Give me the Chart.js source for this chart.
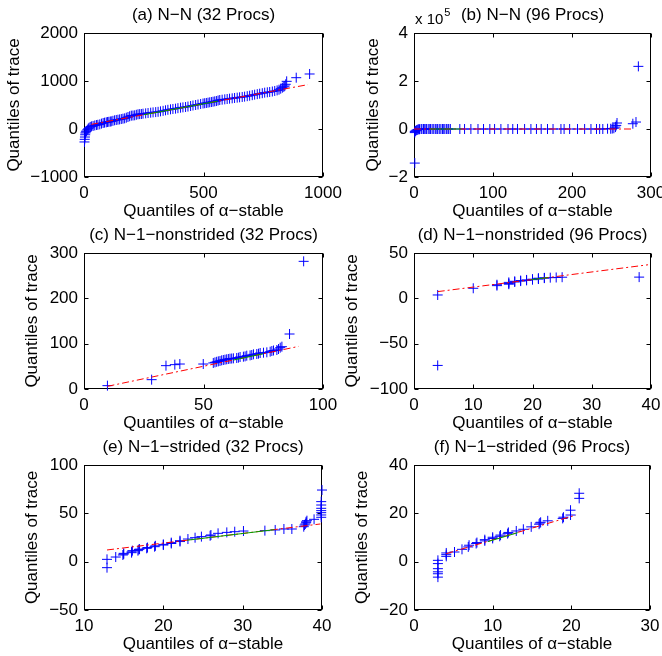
<!DOCTYPE html>
<html>
<head>
<meta charset="utf-8">
<script src="https://cdn.jsdelivr.net/npm/chart.js@4.4.0/dist/chart.umd.min.js"></script>
<style>
html, body { margin: 0; padding: 0; background: #fff; overflow: hidden; }
#wrap { position: relative; width: 662px; height: 656px; }
canvas { position: absolute; left: 0; top: 0; }
</style>
</head>
<body>
<div id="wrap">
<canvas id="c0" width="662" height="656"></canvas>
<canvas id="c1" width="662" height="656"></canvas>
<canvas id="c2" width="662" height="656"></canvas>
<canvas id="c3" width="662" height="656"></canvas>
<canvas id="c4" width="662" height="656"></canvas>
<canvas id="c5" width="662" height="656"></canvas>
</div>
<script>
// ---- data ----
const titles = ['(a) N\u2212N (32 Procs)', '(b) N\u2212N (96 Procs)',
  '(c) N\u22121\u2212nonstrided (32 Procs)', '(d) N\u22121\u2212nonstrided (96 Procs)',
  '(e) N\u22121\u2212strided (32 Procs)', '(f) N\u22121\u2212strided (96 Procs)'];
const xLabel = 'Quantiles of \u03b1\u2212stable';
const yLabel = 'Quantiles of trace';

// (a) N-N 32
const aX = [2,3,4,5,6,8,10,14,18,21,26,31,38,45,52,58,66,73,80,86,93,98,104,110,114,121,128,135,142,149,156,163,170,177,184,191,198,205,212,219,226,233,240,247,258,268,279,289,300,310,320,331,341,351,362,372,383,393,404,414,425,435,446,456,467,477,488,498,505,512,519,526,533,540,547,554,561,568,578,589,599,609,620,630,641,651,662,672,683,693,704,714,725,735,746,756,767,777,788,798,808,816,823,830,836,840,844,848,888,944];
const aY = [-270,-215,-167,-120,-83,-60,-42,-15,7,25,42,55,63,74,83,88,97,112,125,132,139,146,150,155,160,170,181,188,194,200,208,215,222,236,250,265,278,281,285,296,306,310,312,319,326,333,340,347,352,358,368,378,389,400,410,417,424,434,444,451,458,468,479,490,500,510,521,531,537,542,549,556,562,569,576,583,594,604,611,618,625,632,639,646,653,660,667,674,684,694,705,715,726,736,746,757,764,771,781,792,805,819,840,861,878,896,931,993,1069,1146];
const aRefX = [31, 250, 560, 937];
const aRefY = [97, 297, 580, 924];
const aXTicks = [0, 500, 1000];
const aYTicks = [-1000, 0, 1000, 2000];

// (b) N-N 96 (y in units of 1e5)
const bX = [1,1,1,2,3,4,5,6,7,9,10,12,13,15,16,18,20,21,23,25,27,29,30,32,34,36,37,39,41,43,44,46,58,64,72,81,88,96,102,110,119,125,131,140,148,155,161,169,176,186,190,197,207,216,224,231,235,239,245,249,251,253,255,256,257,277,281,284];
const bY = [-1.42,-0.15,-0.1,-0.08,-0.05,-0.04,-0.02,-0.01,-0.01,0,0,0,0,0,0,0,0,0,0,0,0,0,0,0,0,0,0,0,0,0,0,0,0,0,0,0,0,0,0,0,0,0,0,0,0,0,0,0,0,0,0,0,0,0,0,0,0,0,0.01,0.01,0.02,0.03,0.08,0.15,0.25,0.22,0.29,2.61];
const bRefX = [0, 20, 60, 277];
const bRefY = [0, 0, 0, 0];
const bXTicks = [0, 100, 200, 300];
const bYTicks = [-2, 0, 2, 4];

// (c) N-1-nonstrided 32
const cX = [9.8,28.3,34.3,38.0,40.1,49.9,54.1,54.8,55.5,56.2,56.9,57.6,58.3,59.0,59.7,60.4,61.1,61.8,62.5,63.9,64.6,65.3,66.7,67.4,68.1,69.5,70.2,70.9,72.3,73.0,73.7,75.1,76.5,77.9,78.6,79.3,80.7,81.4,82.1,82.8,86,91.9];
const cY = [7.4,20.6,51.5,53.7,55.1,55.1,57.5,58.8,60,61,61.8,63.2,64,64.7,65.5,66.2,66.9,67.2,67.6,68.4,69.1,70.6,71.3,72,73.5,74.2,75,76.5,77.2,77.9,79.4,80.1,80.9,82.4,83.8,84.9,86,88.2,91.2,93.4,121.3,281.6];
const cRefX = [9.8, 62.5, 75, 89.8];
const cRefY = [5.9, 63.9, 77.7, 94];
const cXTicks = [0, 50, 100];
const cYTicks = [0, 100, 200, 300];

// (d) N-1-nonstrided 96
const dX = [4,4,10,14,14,16,16,16,17,17,18,18,19,19,20,20,21,21,21,22,22,23,24,25,38];
const dY = [-74,3.7,11.1,14.0,15.0,15.6,16.4,17.6,18.0,18.8,19.0,19.6,19.8,20.3,20.6,21.1,21.3,21.6,22.2,22.3,22.6,22.8,23.0,23.3,23.4];
const dRefX = [4, 19.8, 22.6, 39.5];
const dRefY = [7.4, 20.6, 22.9, 37];
const dXTicks = [0, 10, 20, 30, 40];
const dYTicks = [-100, -50, 0, 50];

// (e) N-1-strided 32
const eX = [12.9,12.9,14,14.9,15,15,16,16,16.1,16.8,16.9,17,17.9,18,18.9,19,20,20,21,21,22.1,22.1,23.1,24,24.8,25.9,26,26.9,28,29,30.1,32.8,34.1,35.2,36.2,37.7,37.8,37.9,38,38,38.1,39,39.9,39.9,39.9,39.9,39.9,39.9,39.9,40];
const eY = [-6.2,2.4,4.8,6.9,7.8,8.6,9.3,10.2,11.4,11.4,12.5,13,13.8,14.6,15.5,16.4,17.2,17.9,18.8,19.7,20.8,21.7,23.4,24.8,25.9,26.8,27.6,29.3,30.3,31,31.7,32.1,32.8,33.8,33.8,36.2,37.9,39,40.3,41.2,42.4,43.8,45.9,48.3,50.7,52.8,55.2,58.6,62.1,74.1];
const eRefX = [12.9, 23, 34, 39.8];
const eRefY = [12.1, 22.2, 33.1, 39];
const eXTicks = [10, 20, 30, 40];
const eYTicks = [-50, 0, 50, 100];

// (f) N-1-strided 96
const fX = [3.04,3.04,3.04,3.04,3.04,3.04,4.1,4.1,4.1,5.15,6.1,6.9,7,7.9,8,9,9,10,10,10.9,11,11.9,12,13,13.9,14.9,15.9,16,16.1,17,18.9,19,19.9,19.9,21,21];
const fY = [-6.4,-5,-4.2,-2.9,-0.8,0.55,2.2,2.9,3.6,4,5.1,6.1,6.8,7.5,7.9,8.6,9.1,9.6,10.1,10.5,11,11.6,12.1,12.7,13.4,14.4,15.5,16,16.3,16.9,17.9,18.4,19.3,21.3,26.2,28.3];
const fRefX = [4.1, 9.4, 13.2, 20.6];
const fRefY = [3.3, 8.3, 12, 19.3];
const fXTicks = [0, 10, 20, 30];
const fYTicks = [-20, 0, 20, 40];

// ---- layout (pixel boxes of each axes) ----
const boxes = [
  {l: 84,  r: 323, t: 33,  b: 177, yl: 14},
  {l: 414, r: 651, t: 33,  b: 177, yl: 373},
  {l: 84,  r: 323, t: 253, b: 389, yl: 32},
  {l: 414, r: 651, t: 253, b: 389, yl: 352},
  {l: 84,  r: 322, t: 465, b: 610, yl: 32},
  {l: 414, r: 650, t: 465, b: 610, yl: 362}
];

const fam = '"Liberation Sans", Arial, Helvetica, sans-serif';
const FS = 17;

function fmt(v) { return v < 0 ? '\u2212' + Math.abs(v) : String(v); }
function pts(xs, ys) { return xs.map((v, i) => ({x: v, y: ys[i]})); }

const framePlugin = {
  id: 'frame',
  beforeDatasetsDraw(chart) {
    const {ctx, chartArea: a, scales: {x, y}} = chart;
    const L = Math.round(a.left) + 0.5, R = Math.round(a.right) - 0.5;
    const T = Math.round(a.top) + 0.5, B = Math.round(a.bottom) - 0.5;
    const tl = 4;
    ctx.save();
    ctx.strokeStyle = '#000';
    ctx.lineWidth = 1;
    ctx.strokeRect(L, T, R - L, B - T);
    ctx.beginPath();
    x.ticks.forEach(t => {
      const px = Math.round(x.getPixelForValue(t.value)) + 0.5;
      ctx.moveTo(px, B); ctx.lineTo(px, B - tl);
      ctx.moveTo(px, T); ctx.lineTo(px, T + tl);
    });
    y.ticks.forEach(t => {
      const py = Math.round(y.getPixelForValue(t.value)) + 0.5;
      ctx.moveTo(L, py); ctx.lineTo(L + tl, py);
      ctx.moveTo(R, py); ctx.lineTo(R - tl, py);
    });
    ctx.stroke();
    ctx.restore();
  },
  afterDraw(chart, args, opts) {
    const {ctx, chartArea: a} = chart;
    ctx.save();
    ctx.fillStyle = '#000';
    ctx.font = FS + 'px ' + fam;
    ctx.textAlign = 'center';
    ctx.textBaseline = 'middle';
    ctx.fillText(opts.text, (a.left + a.right) / 2, a.top - 18);
    if (opts.exponent) {
      ctx.font = '15px ' + fam;
      ctx.textAlign = 'left';
      ctx.fillText('x 10', a.left + 1, a.top - 13);
      const w = ctx.measureText('x 10').width;
      ctx.font = '11px ' + fam;
      ctx.fillText(opts.exponent, a.left + w + 2, a.top - 20);
    }
    ctx.restore();
  }
};

function makeChart(id, p) {
  const b = p.box;
  const xH = 45;
  const padL = b.yl - 10;
  new Chart(document.getElementById(id), {
    type: 'scatter',
    data: {
      datasets: [
        {data: pts([p.refX[1], p.refX[2]], [p.refY[1], p.refY[2]]), showLine: true,
         borderColor: '#00a000', borderWidth: 1, pointRadius: 0, clip: false},
        {data: pts([p.refX[0], p.refX[3]], [p.refY[0], p.refY[3]]), showLine: true,
         borderColor: '#ff0000', borderWidth: 1, borderDash: [7, 3, 2, 3], pointRadius: 0, clip: false},
        {data: pts(p.xs, p.ys), pointStyle: 'cross', pointRadius: 5, pointHoverRadius: 5,
         borderColor: '#0000ff', backgroundColor: '#0000ff', borderWidth: 1, clip: false}
      ]
    },
    options: {
      responsive: false,
      animation: false,
      events: [],
      layout: {padding: {left: padL, right: 662 - b.r, top: b.t, bottom: 656 - b.b - xH}},
      plugins: {
        legend: {display: false},
        tooltip: {enabled: false},
        frame: {text: p.title, exponent: p.exp}
      },
      scales: {
        x: {
          type: 'linear', position: 'bottom',
          min: p.xTicks[0], max: p.xTicks[p.xTicks.length - 1],
          afterBuildTicks: s => { s.ticks = p.xTicks.map(v => ({value: v})); },
          afterFit: s => { s.height = xH; s.paddingLeft = 0; s.paddingRight = 0; },
          grid: {display: false, drawTicks: false},
          border: {display: false},
          ticks: {autoSkip: false, maxRotation: 0, padding: 6, color: '#000',
                  font: {family: fam, size: FS}, callback: fmt},
          title: {display: true, text: xLabel, color: '#000', font: {family: fam, size: FS}, padding: 0}
        },
        y: {
          type: 'linear', position: 'left',
          min: p.yTicks[0], max: p.yTicks[p.yTicks.length - 1],
          afterBuildTicks: s => { s.ticks = p.yTicks.map(v => ({value: v})); },
          afterFit: s => { s.width = b.l - padL; s.paddingTop = 0; s.paddingBottom = 0; },
          grid: {display: false, drawTicks: false},
          border: {display: false},
          ticks: {autoSkip: false, padding: 6, color: '#000',
                  font: {family: fam, size: FS}, callback: fmt},
          title: {display: true, text: yLabel, color: '#000', font: {family: fam, size: FS}, padding: 0}
        }
      }
    },
    plugins: [framePlugin]
  });
}

makeChart('c0', {box: boxes[0], title: titles[0], xs: aX, ys: aY, refX: aRefX, refY: aRefY, xTicks: aXTicks, yTicks: aYTicks});
makeChart('c1', {box: boxes[1], title: titles[1], xs: bX, ys: bY, refX: bRefX, refY: bRefY, xTicks: bXTicks, yTicks: bYTicks, exp: '5'});
makeChart('c2', {box: boxes[2], title: titles[2], xs: cX, ys: cY, refX: cRefX, refY: cRefY, xTicks: cXTicks, yTicks: cYTicks});
makeChart('c3', {box: boxes[3], title: titles[3], xs: dX, ys: dY, refX: dRefX, refY: dRefY, xTicks: dXTicks, yTicks: dYTicks});
makeChart('c4', {box: boxes[4], title: titles[4], xs: eX, ys: eY, refX: eRefX, refY: eRefY, xTicks: eXTicks, yTicks: eYTicks});
makeChart('c5', {box: boxes[5], title: titles[5], xs: fX, ys: fY, refX: fRefX, refY: fRefY, xTicks: fXTicks, yTicks: fYTicks});
</script>
</body>
</html>
